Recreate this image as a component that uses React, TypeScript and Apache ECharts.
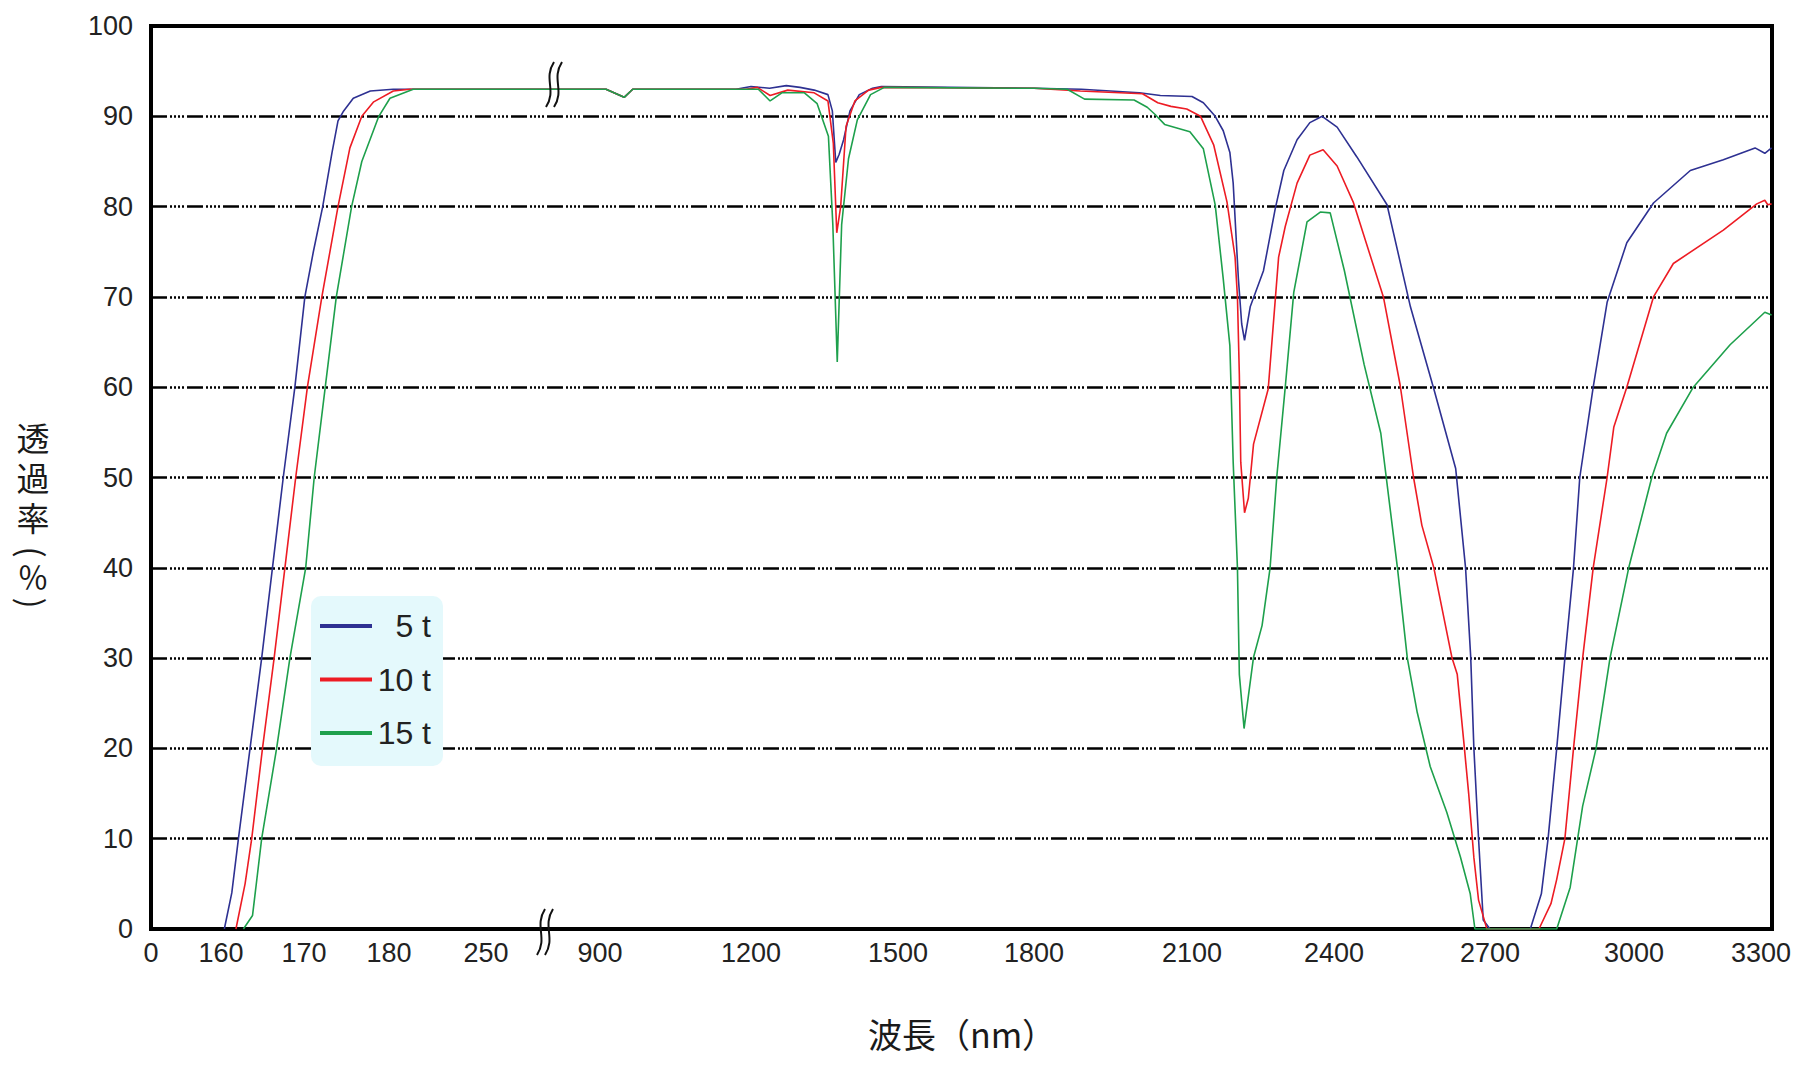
import React, { useEffect, useRef } from "react";
import * as echarts from "echarts";

// ---- axis ticks (x axis is broken / non-linear: each label has its own position) ----
const X_TICK_NM = [0, 160, 170, 180, 250, 900, 1200, 1500, 1800, 2100, 2400, 2700, 3000, 3300];
const X_TICK_POS = [0, 70, 153, 238, 335, 449, 600, 747, 883, 1041, 1183, 1339, 1483, 1610];
const X_POS_MAX = 1621;
const Y_MIN = 0;
const Y_MAX = 100;
const Y_STEP = 10;

const SERIES_NAMES = ["5 t", "10 t", "15 t"];
const SERIES_COLORS = ["#2e3192", "#ed1c24", "#1ea04c"];

// ---- data: [wavelength nm, transmittance %] ----
const T5: [number, number][] = [
  [160.4, 0], [161.3, 4], [162.1, 10], [163.5, 20], [164.9, 30], [166.2, 40], [167.5, 50], [168.9, 60],
  [170.1, 70], [171.1, 75], [172.2, 80], [173.3, 86], [174.0, 89.5], [174.6, 90.5], [175.8, 92], [177.8, 92.8],
  [183, 93], [250, 93], [900, 93], [912, 93], [948, 92.1], [965, 93], [1170, 93], [1200, 93.3], [1238, 93.1],
  [1272, 93.4], [1300, 93.2], [1329, 92.9], [1357, 92.4], [1366, 90.6], [1373, 84.9], [1380, 85.8], [1389, 87.4],
  [1402, 90.6], [1421, 92.4], [1448, 93.1], [1466, 93.3], [1800, 93.1], [1890, 93.0], [2000, 92.6], [2040, 92.3],
  [2100, 92.2], [2124, 91.5], [2149, 90], [2166, 88.4], [2180, 86], [2187, 82.6], [2193, 76.8], [2198, 72],
  [2205, 67], [2211, 65.2], [2223, 68.9], [2251, 72.9], [2276, 79.8], [2294, 84], [2322, 87.4], [2349, 89.3],
  [2375, 90], [2406, 88.8], [2444, 85.5], [2502, 80.2], [2547, 68.9], [2592, 59.8], [2634, 51], [2653, 40],
  [2663, 30], [2669, 20], [2678, 10], [2687, 1], [2700, 0], [2784, 0], [2807, 3.9], [2821, 10], [2839, 20],
  [2856, 30], [2874, 40], [2887, 50], [2915, 60], [2944, 69.4], [2985, 76], [3046, 80.4], [3133, 84],
  [3211, 85.2], [3286, 86.5], [3309, 85.9], [3325, 86.5],
];
const T10: [number, number][] = [
  [161.8, 0], [162.9, 5], [163.7, 10], [165.0, 20], [166.4, 30], [167.7, 40], [169.0, 50], [170.4, 60],
  [172.1, 70], [174.0, 80], [175.4, 86.5], [176.8, 90], [178.2, 91.6], [183.1, 92.8], [195, 93], [250, 93],
  [900, 93], [912, 93], [948, 92.1], [965, 93], [1190, 93], [1213, 93.2], [1239, 92.3], [1275, 92.9],
  [1329, 92.6], [1357, 91.7], [1368, 87], [1375, 77.1], [1383, 80], [1394, 88.9], [1412, 91.7], [1440, 92.9],
  [1466, 93.2], [1800, 93.1], [1888, 92.8], [2006, 92.5], [2035, 91.5], [2060, 91.1], [2090, 90.8], [2118, 90],
  [2146, 86.8], [2174, 80.5], [2191, 74.4], [2196, 70], [2200, 61.4], [2203, 51.7], [2211, 46.1], [2219, 47.7],
  [2230, 53.7], [2261, 59.8], [2283, 74.4], [2297, 77.8], [2322, 82.6], [2349, 85.7], [2377, 86.3], [2406, 84.5],
  [2437, 80.5], [2495, 70], [2527, 60.3], [2553, 50], [2569, 44.7], [2592, 40], [2627, 30], [2637, 28.2],
  [2650, 20.5], [2659, 15], [2669, 7.9], [2678, 3.2], [2694, 0], [2802, 0], [2827, 2.8], [2839, 5.5],
  [2856, 10], [2874, 20], [2893, 30], [2915, 40], [2944, 50], [2958, 55.6], [2985, 60], [3046, 70],
  [3093, 73.7], [3211, 77.4], [3290, 80.3], [3309, 80.7], [3316, 80.2], [3325, 80.3],
];
const T15: [number, number][] = [
  [162.7, 0], [163.8, 1.5], [164.9, 10], [166.7, 20], [168.3, 30], [170.2, 40], [171.2, 50], [172.5, 60],
  [173.8, 70], [175.6, 80], [176.8, 85], [178.8, 90], [180.7, 92], [197.5, 93], [250, 93], [900, 93],
  [912, 93], [948, 92.1], [965, 93], [1215, 93], [1239, 91.7], [1263, 92.6], [1309, 92.6], [1335, 91.4],
  [1358, 87.8], [1367, 78], [1376, 62.8], [1385, 78], [1399, 85.3], [1417, 89.6], [1444, 92.4], [1472, 93.2],
  [1800, 93.1], [1863, 93.0], [1896, 91.9], [1990, 91.8], [2015, 91], [2030, 90.2], [2048, 89.1], [2096, 88.3],
  [2124, 86.4], [2149, 80.2], [2166, 72], [2180, 64.6], [2187, 51.7], [2196, 40], [2200, 28.2], [2210, 22.2],
  [2230, 30.1], [2248, 33.6], [2265, 40], [2279, 50], [2297, 60], [2315, 70.5], [2343, 78.3], [2371, 79.4],
  [2392, 79.3], [2420, 72.9], [2458, 62.5], [2490, 54.9], [2522, 40], [2541, 30], [2560, 24], [2585, 18],
  [2617, 12.9], [2643, 8], [2662, 3.9], [2671, 0], [2839, 0], [2867, 4.6], [2893, 13.6], [2921, 20],
  [2950, 30], [2989, 40], [3042, 50], [3077, 54.9], [3140, 60], [3227, 64.7], [3309, 68.3], [3325, 68],
];
const SERIES_DATA = [T5, T10, T15];

const LABEL_FONT = '"Liberation Sans", Arial, sans-serif';
const CJK = '"Noto Sans CJK JP", "Noto Sans CJK SC", sans-serif';
// Latin primary font keeps each stacked character's text box compact; CJK glyphs fall back to Noto CJK
const CJK_STACK = '"Liberation Sans", "Noto Sans CJK JP", "Noto Sans CJK SC", sans-serif';

function nmToPos(nm: number): number {
  const n = X_TICK_NM.length;
  let i = 0;
  if (nm >= X_TICK_NM[n - 1]) i = n - 2;
  else {
    while (i < n - 2 && nm > X_TICK_NM[i + 1]) i++;
  }
  const a = X_TICK_NM[i];
  const b = X_TICK_NM[i + 1];
  return X_TICK_POS[i] + ((nm - a) / (b - a)) * (X_TICK_POS[i + 1] - X_TICK_POS[i]);
}

function breakMark(cx: number, y0: number, y1: number) {
  const h = y1 - y0;
  const mk = (x: number) => ({
    type: "bezierCurve",
    shape: {
      x1: x + 4, y1: y0,
      cpx1: x - 7, cpy1: y0 + h * 0.38,
      cpx2: x + 7, cpy2: y0 + h * 0.62,
      x2: x - 4, y2: y1,
    },
    style: { stroke: "#111", lineWidth: 2, fill: null },
    z: 100,
  });
  return [mk(cx - 4), mk(cx + 4)];
}

export default function App() {
  const ref = useRef<HTMLDivElement>(null);
  useEffect(() => {
    if (!ref.current) return;
    const chart = echarts.init(ref.current, null, { renderer: "svg" });

    const yTitle = [
      { t: "透", y: 439, r: 0, s: 33, f: CJK_STACK },
      { t: "過", y: 479, r: 0, s: 33, f: CJK_STACK },
      { t: "率", y: 519, r: 0, s: 33, f: CJK_STACK },
      { t: "(", y: 552, r: -Math.PI / 2, s: 33, f: CJK },
      { t: "％", y: 578, r: 0, s: 31, f: CJK_STACK },
      { t: ")", y: 603, r: -Math.PI / 2, s: 33, f: CJK },
    ].map((c) => ({
      type: "text",
      x: 33,
      y: c.y,
      rotation: c.r,
      style: {
        text: c.t,
        fill: "#1a1a1a",
        fontSize: c.s,
        fontFamily: c.f,
        textAlign: "center",
        textVerticalAlign: "middle",
      },
    }));

    chart.setOption({
      animation: false,
      backgroundColor: "#ffffff",
      grid: {
        left: 151,
        right: 28,
        top: 26,
        bottom: 137,
        show: true,
        borderColor: "#000",
        borderWidth: 4,
        backgroundColor: "transparent",
      },
      legend: {
        data: SERIES_NAMES,
        left: 311,
        top: 596,
        orient: "vertical",
        backgroundColor: "#e4f9fc",
        borderRadius: 10,
        padding: [14, 12, 17, 9],
        icon: "rect",
        itemWidth: 52,
        itemHeight: 4,
        itemGap: 21.5,
        formatter: (name: string) => `{n|${name}}`,
        textStyle: {
          rich: {
            n: {
              width: 54,
              align: "right",
              fontSize: 32,
              lineHeight: 30,
              fontFamily: LABEL_FONT,
              color: "#222",
            },
          },
        },
      },
      xAxis: {
        type: "value",
        min: 0,
        max: X_POS_MAX,
        axisLine: { show: false },
        axisTick: { show: false },
        splitLine: { show: false },
        axisLabel: {
          customValues: X_TICK_POS,
          margin: 10,
          fontSize: 27,
          fontFamily: LABEL_FONT,
          color: "#222",
          formatter: (v: number) => {
            let best = -1;
            let d = Infinity;
            X_TICK_POS.forEach((p, i) => {
              if (Math.abs(p - v) < d) {
                d = Math.abs(p - v);
                best = i;
              }
            });
            return d < 0.5 ? String(X_TICK_NM[best]) : "";
          },
        },
      },
      yAxis: {
        type: "value",
        min: Y_MIN,
        max: Y_MAX,
        interval: Y_STEP,
        axisLine: { show: false },
        axisTick: { show: false },
        axisLabel: {
          margin: 18,
          fontSize: 27,
          fontFamily: LABEL_FONT,
          color: "#222",
        },
        splitLine: {
          show: true,
          lineStyle: {
            color: "#000",
            width: 2.5,
            type: [16, 3, 2, 2, 2, 2, 2, 2, 2, 3],
          },
        },
      },
      series: SERIES_NAMES.map((name, i) => ({
        name,
        type: "line",
        symbol: "none",
        showSymbol: false,
        color: SERIES_COLORS[i],
        lineStyle: { color: SERIES_COLORS[i], width: 1.6 },
        data: SERIES_DATA[i].map(([nm, t]) => [nmToPos(nm), t]),
        z: 3 + i,
      })),
      graphic: [
        ...breakMark(554, 62, 107),
        ...breakMark(545, 909, 955),
        ...yTitle,
        {
          type: "text",
          x: 962,
          y: 1033,
          style: {
            text: "波長（nm）",
            fill: "#1a1a1a",
            fontSize: 34,
            fontFamily: CJK,
            textAlign: "center",
            textVerticalAlign: "middle",
          },
        },
      ],
    });
    return () => chart.dispose();
  }, []);
  return (
    <div
      ref={ref}
      style={{ position: "fixed", left: 0, top: 0, width: 1800, height: 1066, background: "#fff" }}
    />
  );
}
